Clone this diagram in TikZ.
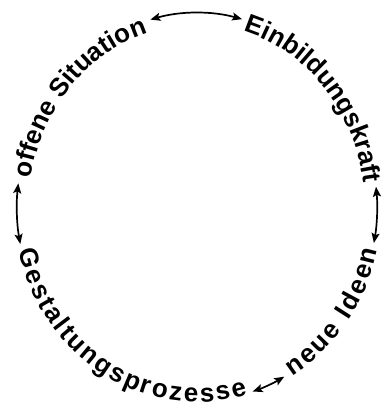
\documentclass[tikz,border=0pt]{standalone}
\usepackage{fontspec}
\setmainfont{Liberation Sans}
\usetikzlibrary{decorations.text,arrows.meta}
\begin{document}
\begin{tikzpicture}[x=1pt,y=1pt,
  ringtext/.style={decorate, decoration={text along path, text={|\fontsize{26}{31}\selectfont\bfseries|#1}, text align={fit to path}}},
  ringarrow/.style={line width=1.7pt, {Stealth[length=10pt,width=8pt,inset=2pt]}-{Stealth[length=10pt,width=8pt,inset=2pt]}}
]
\useasboundingbox (0,0) rectangle (384,405);
\coordinate (C) at (197,198);
% text arcs (outward tops: inner baseline; inward tops: outer baseline)
\path[ringtext={offene Situation}] ([shift={(171:168pt and 182pt)}]C) arc[start angle=171, end angle=108, x radius=168pt, y radius=182pt];
\path[ringtext={Einbildungskraft}] ([shift={(74:168pt and 183pt)}]C) arc[start angle=74, end angle=7.5, x radius=168pt, y radius=183pt];
\path[ringtext={neue Ideen}] ([shift={(-59:185pt and 197pt)}]C) arc[start angle=-59, end angle=-12.5, x radius=185pt, y radius=197pt];
\path[ringtext={Gestaltungsprozesse}] ([shift={(193:183pt and 195pt)}]C) arc[start angle=193, end angle=286, x radius=183pt, y radius=195pt];
% arrow end points
\coordinate (top1) at ([shift={(105:180pt and 194pt)}]C);
\coordinate (left1) at ([shift={(173:180pt and 194pt)}]C);
\coordinate (right1) at ([shift={(6:180pt and 194pt)}]C);
\coordinate (bot1) at ([shift={(288:180pt and 194pt)}]C);
% arrows
\draw[ringarrow] (top1) arc[start angle=105, end angle=75.5, x radius=180pt, y radius=194pt];
\draw[ringarrow] (left1) arc[start angle=173, end angle=191, x radius=180pt, y radius=194pt];
\draw[ringarrow] (right1) arc[start angle=6, end angle=-10.7, x radius=180pt, y radius=194pt];
\draw[ringarrow] (bot1) arc[start angle=288, end angle=299, x radius=180pt, y radius=194pt];
\end{tikzpicture}
\end{document}
